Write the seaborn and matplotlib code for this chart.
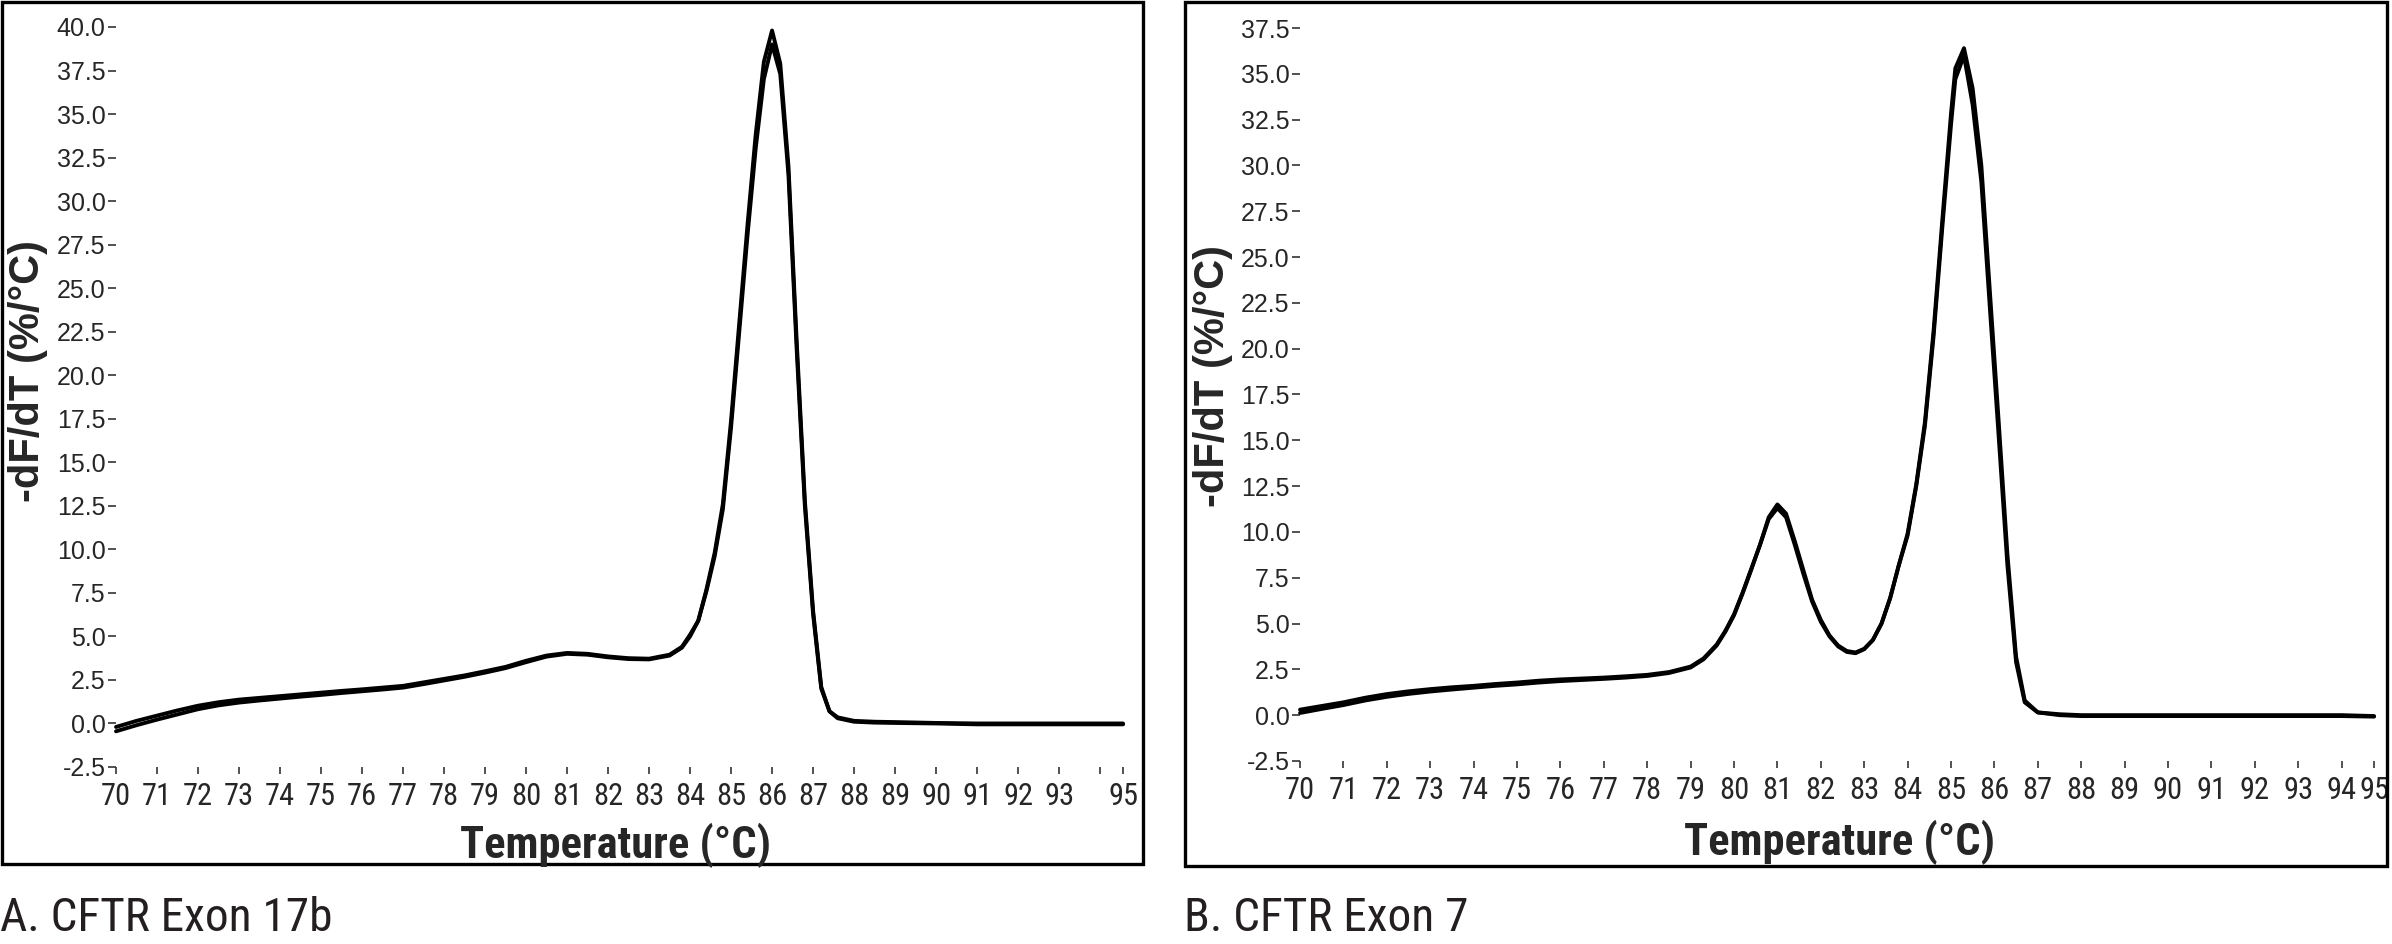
#!/usr/bin/env python3
"""
Melting curve derivative plots (-dF/dT) for CFTR exon 17b and exon 7.
Two boxed panels with captions underneath.
"""

import pandas as pd
import matplotlib
matplotlib.use('Agg')
import matplotlib.pyplot as plt
import seaborn as sns
from matplotlib import font_manager
from matplotlib.patches import Rectangle
from matplotlib.ticker import FormatStrFormatter

# ---- data ----
# Panel A: CFTR exon 17b (one melt domain, shoulder near 81 C)
temps_a = [70.0, 70.5, 71.0, 71.5, 72.0, 72.5, 73.0, 73.5, 74.0, 74.5, 75.0, 75.5,
           76.0, 76.5, 77.0, 77.5, 78.0, 78.5, 79.0, 79.5, 80.0, 80.5, 81.0, 81.5,
           82.0, 82.5, 83.0, 83.5, 83.8, 84.0, 84.2, 84.4, 84.6, 84.8, 85.0, 85.2,
           85.4, 85.6, 85.8, 86.0, 86.2, 86.4, 86.6, 86.8, 87.0, 87.2, 87.4, 87.6,
           88.0, 88.5, 89.0, 90.0, 91.0, 92.0, 93.0, 94.0, 94.56]
run1_a = [-0.2, 0.15, 0.45, 0.75, 1.02, 1.22, 1.37, 1.47, 1.57, 1.67, 1.77, 1.87,
          1.96, 2.06, 2.16, 2.36, 2.56, 2.76, 3.0, 3.25, 3.6, 3.9, 4.05, 4.0,
          3.85, 3.75, 3.72, 3.95, 4.4, 5.1, 5.9, 7.6, 9.6, 12.3, 17.0, 22.5,
          28.0, 33.0, 37.0, 39.0, 37.3, 31.5, 21.5, 12.5, 6.3, 2.0, 0.7, 0.35,
          0.15, 0.1, 0.08, 0.03, 0.0, 0.0, 0.0, 0.0, 0.0]
run2_a = [-0.45, -0.1, 0.22, 0.52, 0.82, 1.04, 1.2, 1.32, 1.43, 1.54, 1.64, 1.75,
          1.85, 1.95, 2.06, 2.26, 2.47, 2.68, 2.92, 3.18, 3.52, 3.84, 4.0, 3.95,
          3.8, 3.7, 3.68, 3.9, 4.35, 5.0, 5.9, 7.7, 9.8, 12.6, 17.4, 23.0,
          28.6, 33.8, 38.0, 39.8, 37.9, 32.0, 22.0, 12.8, 6.5, 2.1, 0.7, 0.3,
          0.1, 0.05, 0.03, 0.0, -0.05, -0.05, -0.05, -0.05, -0.05]

# Panel B: CFTR exon 7 (two melt domains, 81 C and 85.3 C)
temps_b = [70.0, 70.5, 71.0, 71.5, 72.0, 72.5, 73.0, 73.5, 74.0, 74.5, 75.0, 75.5,
           76.0, 76.5, 77.0, 77.5, 78.0, 78.5, 79.0, 79.3, 79.6, 79.8, 80.0, 80.2,
           80.4, 80.6, 80.8, 81.0, 81.2, 81.4, 81.6, 81.8, 82.0, 82.2, 82.4, 82.6,
           82.8, 83.0, 83.2, 83.4, 83.6, 83.8, 84.0, 84.2, 84.4, 84.6, 84.8, 85.0,
           85.1, 85.3, 85.5, 85.7, 85.9, 86.1, 86.3, 86.5, 86.7, 87.0, 87.5, 88.0,
           89.0, 90.0, 91.0, 92.0, 93.0, 94.0, 94.75]
run1_b = [0.3, 0.5, 0.7, 0.95, 1.15, 1.3, 1.42, 1.52, 1.6, 1.7, 1.78, 1.88,
          1.95, 2.0, 2.05, 2.12, 2.2, 2.35, 2.65, 3.1, 3.85, 4.6, 5.5, 6.7,
          8.0, 9.3, 10.7, 11.3, 10.8, 9.3, 7.7, 6.2, 5.1, 4.3, 3.75, 3.45,
          3.38, 3.6, 4.1, 5.0, 6.4, 8.2, 9.8, 12.5, 15.8, 20.7, 26.6, 32.2,
          34.7, 36.0, 33.3, 29.1, 22.1, 15.2, 8.2, 2.9, 0.7, 0.15, 0.05, 0.0,
          0.0, 0.0, 0.0, 0.0, 0.0, 0.0, -0.05]
run2_b = [0.12, 0.34, 0.55, 0.8, 1.0, 1.16, 1.29, 1.4, 1.5, 1.6, 1.68, 1.78,
          1.86, 1.92, 1.98, 2.05, 2.14, 2.3, 2.6, 3.05, 3.8, 4.55, 5.45, 6.65,
          7.95, 9.3, 10.8, 11.5, 11.0, 9.5, 7.9, 6.3, 5.2, 4.35, 3.8, 3.5,
          3.42, 3.62, 4.1, 5.0, 6.4, 8.2, 9.9, 12.6, 16.0, 21.0, 27.0, 32.8,
          35.3, 36.4, 34.2, 30.0, 23.0, 16.0, 8.8, 3.2, 0.8, 0.15, 0.0, -0.05,
          -0.05, -0.05, -0.05, -0.05, -0.05, -0.05, -0.08]

yticks_a = [-2.5, 0.0, 2.5, 5.0, 7.5, 10.0, 12.5, 15.0, 17.5, 20.0, 22.5, 25.0,
            27.5, 30.0, 32.5, 35.0, 37.5, 40.0]
yticks_b = [-2.5, 0.0, 2.5, 5.0, 7.5, 10.0, 12.5, 15.0, 17.5, 20.0, 22.5, 25.0,
            27.5, 30.0, 32.5, 35.0, 37.5]

# last tick sits at the end of the scan and is labelled 95
xticks_a = [70, 71, 72, 73, 74, 75, 76, 77, 78, 79, 80, 81, 82, 83, 84, 85, 86,
            87, 88, 89, 90, 91, 92, 93, 94, 94.56]
xlabels_a = ['70', '71', '72', '73', '74', '75', '76', '77', '78', '79', '80', '81',
             '82', '83', '84', '85', '86', '87', '88', '89', '90', '91', '92', '93',
             '', '95']
xticks_b = [70, 71, 72, 73, 74, 75, 76, 77, 78, 79, 80, 81, 82, 83, 84, 85, 86,
            87, 88, 89, 90, 91, 92, 93, 94, 94.75]
xlabels_b = ['70', '71', '72', '73', '74', '75', '76', '77', '78', '79', '80', '81',
             '82', '83', '84', '85', '86', '87', '88', '89', '90', '91', '92', '93',
             '94', '95']

captions = ['A. CFTR Exon 17b', 'B. CFTR Exon 7']
x_title = 'Temperature (°C)'
y_title = '-dF/dT (%/°C)'


def long_frame(temps, runs):
    frames = []
    for name, vals in runs.items():
        frames.append(pd.DataFrame({'Temperature': temps, 'dFdT': vals, 'run': name}))
    return pd.concat(frames, ignore_index=True)


sns.set_style('white')
plt.rcParams['font.family'] = ['Liberation Sans', 'DejaVu Sans']
plt.rcParams['axes.unicode_minus'] = False

# the original uses squeezed lettering; pick a condensed face if there is one
installed = {f.name for f in font_manager.fontManager.ttflist}
NARROW, SCALE = 'Liberation Sans', 0.86
for name, s in [('Liberation Sans Narrow', 1.0), ('Roboto Condensed', 1.0)]:
    if name in installed:
        NARROW, SCALE = name, s
        break


def draw_panel(ax, df, xlim, ylim, xticks, xlabels, yticks):
    sns.lineplot(data=df, x='Temperature', y='dFdT', units='run', estimator=None,
                 color='black', linewidth=2.8, legend=False, ax=ax)
    for line in ax.lines:
        line.set_clip_on(False)
    ax.set_xlim(*xlim)
    ax.set_ylim(*ylim)
    for side in ['top', 'right', 'bottom', 'left']:
        ax.spines[side].set_visible(False)
    ax.set_xticks(xticks)
    ax.set_xticklabels(xlabels, fontsize=22 * SCALE, family=NARROW)
    ax.set_yticks(yticks)
    ax.yaxis.set_major_formatter(FormatStrFormatter('%.1f'))
    for lab in ax.get_yticklabels():
        lab.set_fontsize(18)
    ax.tick_params(axis='x', direction='out', length=5, width=1.2, pad=6,
                   color='#333333', bottom=True)
    ax.tick_params(axis='y', direction='out', length=6, width=1.2, pad=1.5,
                   color='#333333', left=True)
    ax.set_xlabel('')
    ax.set_ylabel('')
    ax.grid(False)


fig = plt.figure(figsize=(23.92, 9.44), dpi=100)
ax_a = fig.add_axes([0.0485, 0.1875, 0.4210, 0.7839])
ax_b = fig.add_axes([0.5435, 0.1939, 0.4490, 0.7764])

draw_panel(ax_a, long_frame(temps_a, {'r1': run1_a, 'r2': run2_a}),
           (70, 94.56), (-2.5, 40.0), xticks_a, xlabels_a, yticks_a)
draw_panel(ax_b, long_frame(temps_b, {'r1': run1_b, 'r2': run2_b}),
           (70, 94.75), (-2.5, 37.5), xticks_b, xlabels_b, yticks_b)

# panel frames
fig.add_artist(Rectangle((0.0007, 0.0847), 0.4771, 0.9135, transform=fig.transFigure,
                         fill=False, lw=2.4, ec='black'))
fig.add_artist(Rectangle((0.4954, 0.0826), 0.5025, 0.9156, transform=fig.transFigure,
                         fill=False, lw=2.4, ec='black'))

# axis titles
fig.text(0.2575, 0.0911, x_title, ha='center', va='baseline', fontsize=32 * SCALE,
         fontweight='bold', family=NARROW)
fig.text(0.769, 0.0943, x_title, ha='center', va='baseline', fontsize=32 * SCALE,
         fontweight='bold', family=NARROW)
fig.text(0.0117, 0.607, y_title, rotation=90, ha='center', va='center', fontsize=30,
         fontweight='bold')
fig.text(0.507, 0.602, y_title, rotation=90, ha='center', va='center', fontsize=30,
         fontweight='bold')

# captions
fig.text(0.0, 0.0138, captions[0], ha='left', va='baseline', fontsize=34 * SCALE,
         family=NARROW, color='#231F20')
fig.text(0.495, 0.0138, captions[1], ha='left', va='baseline', fontsize=34 * SCALE,
         family=NARROW, color='#231F20')

fig.savefig('out.png', dpi=100, facecolor='white')
plt.close(fig)
